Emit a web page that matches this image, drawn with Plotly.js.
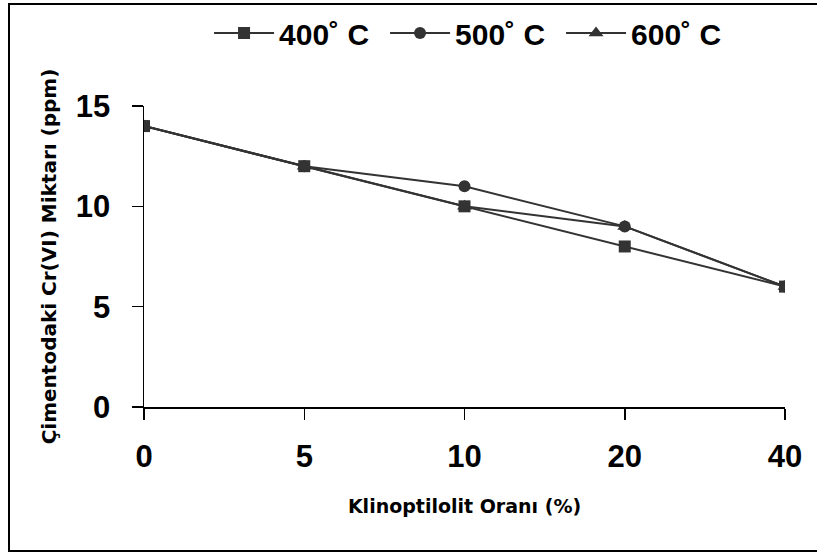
<!DOCTYPE html>
<html><head><meta charset="utf-8">
<script src="https://cdn.plot.ly/plotly-3.0.1.min.js"></script>
<style>body{margin:0;background:#fff}#c{width:817px;height:554px}</style>
</head><body><div id="c"></div>
<script>
const categories = ["0", "5", "10", "20", "40"];
const s400 = [14, 12, 10, 8, 6];
const s500 = [14, 12, 11, 9, 6];
const s600 = [14, 12, 10, 9, 6];
const seriesNames = ["400˚ C", "500˚ C", "600˚ C"];
const yTicks = [0, 5, 10, 15];

const col = '#333333';
const sans = 'Liberation Sans, Arial, sans-serif';
const wide = 'DejaVu Sans, Liberation Sans, sans-serif';
const mk = (name, y, symbol, size) => ({
  type: 'scatter', mode: 'lines+markers', name: name,
  x: categories, y: y,
  line: {color: col, width: 2},
  marker: {symbol: symbol, size: size, color: col}
});
const data = [
  mk(seriesNames[0], s400, 'square', 12),
  mk(seriesNames[1], s500, 'circle', 12),
  mk(seriesNames[2], s600, 'triangle-up', 13)
];
const layout = {
  width: 817, height: 554,
  margin: {l: 144, r: 32, t: 106, b: 147},
  paper_bgcolor: '#fff', plot_bgcolor: '#fff',
  font: {family: sans, color: '#000'},
  showlegend: true,
  legend: {orientation: 'h', xref: 'container', yref: 'container',
    x: 0.579, y: 0.9404, xanchor: 'center', yanchor: 'middle',
    font: {size: 30, family: sans, weight: 'bold'},
    itemwidth: 60, entrywidth: 101, tracegroupgap: 0},
  xaxis: {
    type: 'category', range: [0, 4], showgrid: false, zeroline: false,
    showline: true, linecolor: '#000', linewidth: 1.5,
    ticks: 'outside', ticklen: 11, tickcolor: '#000', tickwidth: 1.5,
    ticklabelstandoff: 10,
    tickfont: {size: 31, family: sans, weight: 'bold'},
    title: {text: 'Klinoptilolit Oranı (%)', font: {size: 19, family: wide, weight: 'bold'}, standoff: 27}
  },
  yaxis: {
    range: [0, 15], tickvals: yTicks, showgrid: false, zeroline: false,
    showline: true, linecolor: '#000', linewidth: 1.5,
    ticks: 'outside', ticklen: 11, tickcolor: '#000', tickwidth: 1.5,
    ticklabelstandoff: 15,
    tickfont: {size: 31, family: sans, weight: 'bold'},
    title: {text: 'Çimentodaki Cr(VI) Miktarı (ppm)', font: {size: 20, family: wide, weight: 'bold'}, standoff: 14}
  },
  shapes: [{type: 'rect', xref: 'paper', yref: 'paper',
    x0: -0.2106, x1: 1.0546, y0: -0.4784, y1: 1.3389,
    line: {color: '#000', width: 2}, layer: 'below'}]
};
Plotly.newPlot('c', data, layout, {displayModeBar: false, staticPlot: true});
</script></body></html>
